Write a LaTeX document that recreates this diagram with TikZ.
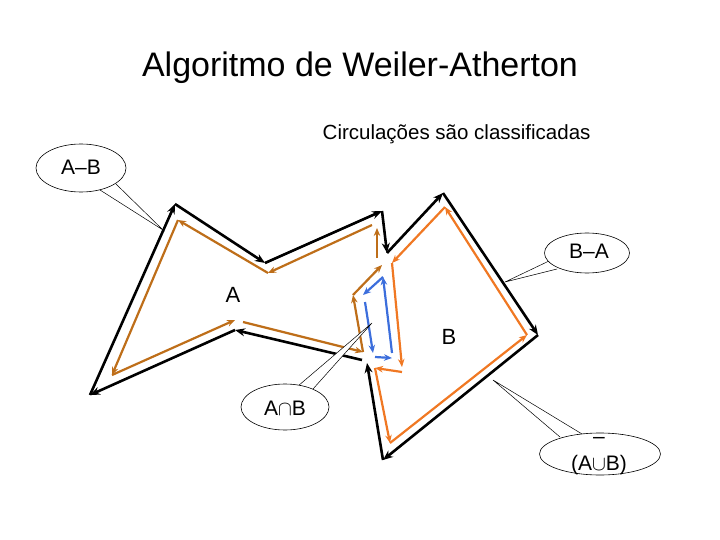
\documentclass[tikz,border=0pt]{standalone}
\usepackage{fontspec}
\setmainfont{Liberation Sans}
\usetikzlibrary{arrows.meta,shapes.geometric}
\definecolor{brn}{RGB}{190,110,25}
\definecolor{org}{RGB}{240,120,35}
\definecolor{blu}{RGB}{60,110,220}
\tikzset{
 blk/.style={line width=2.6pt,-{Stealth[length=10pt,width=8pt]}},
 bro/.style={brn,line width=2.2pt,-{Stealth[length=8pt,width=6.5pt]}},
 ora/.style={org,line width=2.2pt,-{Stealth[length=8pt,width=6.5pt]}},
 bl/.style={blu,line width=2.2pt,-{Stealth[length=8pt,width=6.5pt]}},
 bubble/.style={draw,ellipse,fill=white,line width=0.6pt},
 ptr/.style={line width=0.5pt},
 lbl/.style={font=\fontsize{22}{24}\selectfont},
 btxt/.style={font=\fontsize{21}{23}\selectfont}
}
\begin{document}
\begin{tikzpicture}[x=1pt,y=-1pt]
\useasboundingbox (0,0) rectangle (720,540);
\node (title) at (360,68) {\fontsize{34}{38}\selectfont Algoritmo de Weiler-Atherton};
\node[anchor=east] (sub) at (594,134) {\fontsize{20.5}{23}\selectfont Circulações são classificadas};
% black outline
\coordinate (k1) at (90,395); \coordinate (k2) at (175,204); \coordinate (k3) at (265,263);
\coordinate (k4) at (382,211); \coordinate (k5) at (387,253); \coordinate (k6) at (443,193);
\coordinate (k7) at (538,335); \coordinate (k8) at (383,460); \coordinate (k9) at (367,363);
\coordinate (k10) at (362,360); \coordinate (k11) at (235,330);
\draw[blk] (k1)--(k2); \draw[blk] (k2)--(k3); \draw[blk] (k3)--(k4); \draw[blk] (k4)--(k5);
\draw[blk] (k5)--(k6); \draw[blk] (k6)--(k7); \draw[blk] (k7)--(k8); \draw[blk] (k8)--(k9);
\draw[blk] (k10)--(k11); \draw[blk] (k11)--(k1);
% brown A-B
\coordinate (r1) at (112,375); \coordinate (r2) at (235,320); \coordinate (r3) at (243,322);
\coordinate (r4) at (363,352); \coordinate (r5) at (353,295); \coordinate (r6) at (382,265);
\coordinate (r7) at (377,258); \coordinate (r8) at (377,228); \coordinate (r9) at (372,225);
\coordinate (r10) at (268,273); \coordinate (r11) at (178,220);
\draw[bro] (r1)--(r2); \draw[bro] (r3)--(r4); \draw[bro] (r4)--(r5); \draw[bro] (r5)--(r6);
\draw[bro] (r7)--(r8); \draw[bro] (r9)--(r10); \draw[bro] (r10)--(r11); \draw[bro] (r11)--(r1);
% orange B-A
\coordinate (o1) at (392,263); \coordinate (o2) at (402,367); \coordinate (o3) at (402,372);
\coordinate (o4) at (375,368); \coordinate (o5) at (390,443); \coordinate (o6) at (527,335);
\coordinate (o7) at (445,207);
\draw[ora] (o1)--(o2); \draw[ora] (o3)--(o4); \draw[ora] (o4)--(o5); \draw[ora] (o5)--(o6);
\draw[ora] (o6)--(o7); \draw[ora] (o7)--(o1);
% blue intersection
\coordinate (u1) at (383,277); \coordinate (u2) at (363,295); \coordinate (u3) at (365,302);
\coordinate (u4) at (373,353); \coordinate (u5) at (375,357); \coordinate (u6) at (392,358);
\coordinate (u7) at (392,353);
\draw[bl] (u1)--(u2); \draw[bl] (u3)--(u4); \draw[bl] (u5)--(u6); \draw[bl] (u7)--(u1);
% labels
\node[lbl] (la) at (233,295) {A};
\node[lbl] (lb) at (449,337) {B};
% callouts
\coordinate (t1) at (163,230); \coordinate (t2) at (505,282);
\coordinate (t3) at (493,380); \coordinate (t4) at (372,323);
\draw[ptr,fill=white] (100,190)--(t1)--(116,184);
\node[bubble,minimum width=90pt,minimum height=48pt,inner sep=0pt] (c1) at (81,168) {};
\node[btxt] (c1t) at (81,167) {A–B};
\draw[ptr,fill=white] (549,261)--(t2)--(557,269);
\node[bubble,minimum width=85pt,minimum height=40pt,inner sep=0pt] (c2) at (587,253) {};
\node[btxt] (c2t) at (589,251) {B–A};
\draw[ptr,fill=white] (560,437)--(t3)--(582,434);
\node[bubble,minimum width=121pt,minimum height=42pt,inner sep=0pt] (c3) at (600,454) {};
\node[btxt] (c3a) at (599,440) {–};
\node[btxt] (c3b) at (599,465) {(A$\cup$B)};
\draw[ptr,fill=white] (298,386)--(t4)--(313,389);
\node[bubble,minimum width=88pt,minimum height=46pt,inner sep=0pt] (c4) at (285,407) {};
\node[btxt] (c4t) at (285,408) {A$\cap$B};
\end{tikzpicture}
\end{document}
